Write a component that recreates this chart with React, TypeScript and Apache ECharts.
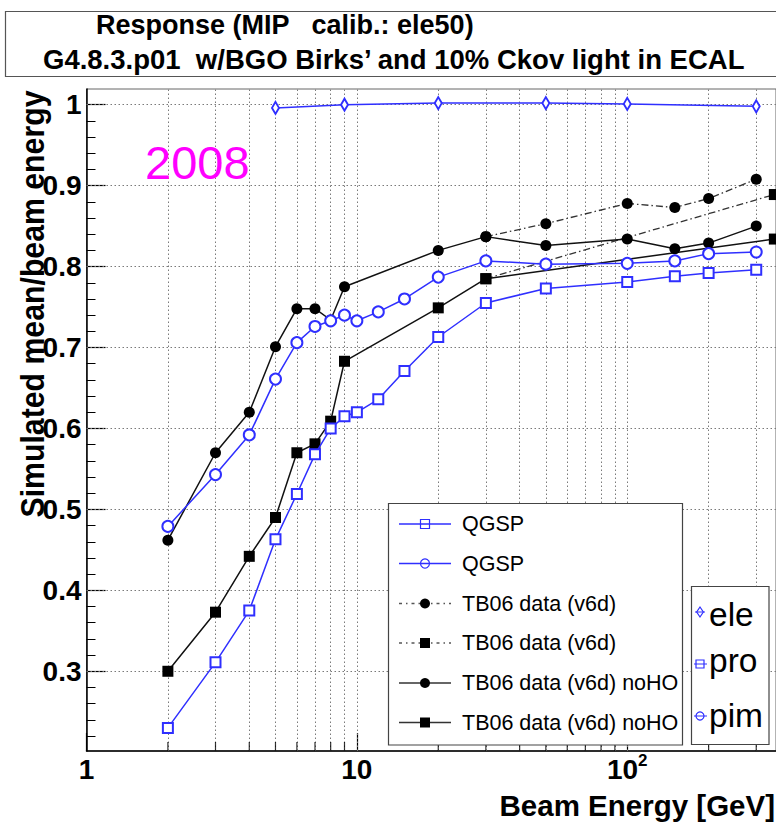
import React, { useEffect, useRef } from 'react';
import * as echarts from 'echarts';

const FONT = '"Liberation Sans", Arial, Helvetica, sans-serif';
const BLUE = '#2f2fff';
const BLACK = '#111';

// ---- axis ranges ----
const X_MIN = 1;
const X_MAX = 355;
const Y_MIN = 0.2015;
const Y_MAX = 1.0194;

// ---- electrons (sim) ----
const eleE = [5, 9, 20, 50, 100, 300];
const eleV = [0.996, 1.0, 1.002, 1.002, 1.001, 0.998];

// ---- QGSP simulation (protons: squares, pions: circles) ----
const simE = [2, 3, 4, 5, 6, 7, 8, 9, 10, 12, 15, 20, 30, 50, 100, 150, 200, 300];
const qgspProV = [0.23, 0.311, 0.375, 0.463, 0.519, 0.568, 0.6, 0.615, 0.62, 0.636, 0.671, 0.713, 0.755, 0.773, 0.781, 0.788, 0.792, 0.796];
const qgspPimV = [0.479, 0.543, 0.592, 0.661, 0.706, 0.726, 0.733, 0.74, 0.733, 0.744, 0.76, 0.787, 0.807, 0.803, 0.804, 0.807, 0.816, 0.818];

// ---- TB06 data, circles ----
const tbPimE = [30, 50, 100, 150, 200, 300];
const tbPimV = [0.837, 0.853, 0.878, 0.873, 0.884, 0.908];
const tbPimNoHOE = [2, 3, 4, 5, 6, 7, 8, 9, 20, 30, 50, 100, 150, 200, 300];
const tbPimNoHOV = [0.462, 0.57, 0.62, 0.701, 0.748, 0.748, 0.734, 0.775, 0.82, 0.837, 0.826, 0.834, 0.822, 0.829, 0.85];

// ---- TB06 data, squares ----
const tbProE = [30, 350];
const tbProV = [0.785, 0.889];
const tbProNoHOE = [2, 3, 4, 5, 6, 7, 8, 9, 20, 30, 350];
const tbProNoHOV = [0.3, 0.373, 0.442, 0.49, 0.57, 0.581, 0.609, 0.683, 0.749, 0.785, 0.834];

// ---- ticks and grid ----
const xGridValues = [2, 3, 4, 5, 6, 7, 8, 9, 10, 20, 30, 40, 50, 60, 70, 80, 90, 100, 200, 300];
const xMinorTicks = [2, 3, 4, 5, 6, 7, 8, 9, 20, 30, 40, 50, 60, 70, 80, 90, 200, 300];
const yLabelValues = [0.3, 0.4, 0.5, 0.6, 0.7, 0.8, 0.9, 1.0];
const yMinorTicks = [0.22, 0.24, 0.26, 0.28, 0.32, 0.34, 0.36, 0.38, 0.42, 0.44, 0.46, 0.48, 0.52, 0.54, 0.56, 0.58, 0.62, 0.64, 0.66, 0.68, 0.72, 0.74, 0.76, 0.78, 0.82, 0.84, 0.86, 0.88, 0.92, 0.94, 0.96, 0.98];

const titleLines = ['Response (MIP   calib.: ele50)', "G4.8.3.p01  w/BGO Birks\u2019 and 10% Ckov light in ECAL"];
const xTitle = 'Beam Energy [GeV]';
const yTitle = 'Simulated mean/beam energy';
const yearLabel = '2008';

const legend1 = [
  { label: 'QGSP', color: BLUE, dash: null as any, marker: 'openSquare' },
  { label: 'QGSP', color: BLUE, dash: null as any, marker: 'openCircle' },
  { label: 'TB06 data (v6d)', color: '#555', dash: [3, 4, 1.5, 4], marker: 'circle' },
  { label: 'TB06 data (v6d)', color: '#555', dash: [3, 4, 1.5, 4], marker: 'square' },
  { label: 'TB06 data (v6d) noHO', color: '#333', dash: null as any, marker: 'circle' },
  { label: 'TB06 data (v6d) noHO', color: '#333', dash: null as any, marker: 'square' },
];
const legend1Y = [524, 563.5, 603.5, 643, 683, 722.5];
const legend2 = [
  { label: 'ele', marker: 'diamond' },
  { label: 'pro', marker: 'openSquare' },
  { label: 'pim', marker: 'openCircle' },
];
const legend2MarkerY = [612, 664, 716];
const legend2TextY = [614, 660, 715];

const DASHDOT = [7, 3, 1.5, 3];

function pairs(xs: number[], ys: number[]) {
  return xs.map((x, i) => [x, ys[i]]);
}

function markerEls(kind: string, cx: number, cy: number, color: string, s: number) {
  const els: any[] = [];
  if (kind === 'openSquare') {
    els.push({ type: 'rect', shape: { x: cx - s / 2, y: cy - s / 2, width: s, height: s }, style: { fill: 'rgba(255,255,255,0)', stroke: color, lineWidth: 1.2 } });
  } else if (kind === 'openCircle') {
    els.push({ type: 'circle', shape: { cx, cy, r: s / 2 }, style: { fill: 'rgba(255,255,255,0)', stroke: color, lineWidth: 1.2 } });
  } else if (kind === 'circle') {
    els.push({ type: 'circle', shape: { cx, cy, r: s / 2 }, style: { fill: '#000' } });
  } else if (kind === 'square') {
    els.push({ type: 'rect', shape: { x: cx - s / 2, y: cy - s / 2, width: s, height: s }, style: { fill: '#000' } });
  } else if (kind === 'diamond') {
    els.push({ type: 'polygon', shape: { points: [[cx, cy - s / 2], [cx + s / 3, cy], [cx, cy + s / 2], [cx - s / 3, cy]] }, style: { fill: 'rgba(255,255,255,0)', stroke: color, lineWidth: 1.2 } });
    els.push({ type: 'line', shape: { x1: cx - s / 2, y1: cy, x2: cx + s / 2, y2: cy }, style: { stroke: color, lineWidth: 1 } });
  }
  return els;
}

function buildGraphic() {
  const g: any[] = [];
  // title box
  g.push({ type: 'rect', shape: { x: 5.5, y: 11.5, width: 800, height: 65 }, style: { fill: '#fff', stroke: '#555', lineWidth: 1.2 }, z: 10 });
  g.push({ type: 'text', x: 96, y: 25, style: { text: titleLines[0], fill: '#000', fontFamily: FONT, fontWeight: 'bold', fontSize: 27, align: 'left', verticalAlign: 'middle' }, z: 11 });
  g.push({ type: 'text', x: 43, y: 59, style: { text: titleLines[1], fill: '#000', fontFamily: FONT, fontWeight: 'bold', fontSize: 27.5, align: 'left', verticalAlign: 'middle' }, z: 11 });
  // year
  g.push({ type: 'text', x: 145, y: 162, style: { text: yearLabel, fill: '#ff00ff', fontFamily: FONT, fontSize: 47, align: 'left', verticalAlign: 'middle' }, z: 11 });
  // axis titles
  g.push({ type: 'text', x: 775, y: 805, style: { text: xTitle, fill: '#000', fontFamily: FONT, fontWeight: 'bold', fontSize: 29.5, lineHeight: 20, align: 'right', verticalAlign: 'middle' }, z: 11 });
  g.push({ type: 'text', x: 32, y: 304, rotation: Math.PI / 2, scaleX: 0.89, style: { text: yTitle, fill: '#000', fontFamily: FONT, fontWeight: 'bold', fontSize: 34, align: 'center', verticalAlign: 'middle' }, z: 11 });
  // legend 1
  g.push({ type: 'rect', shape: { x: 388.5, y: 503.5, width: 294, height: 241.5 }, style: { fill: '#fff', stroke: '#444', lineWidth: 1.2 }, z: 10 });
  legend1.forEach((e, i) => {
    const y = legend1Y[i];
    g.push({ type: 'line', shape: { x1: 399, y1: y, x2: 451, y2: y }, style: { stroke: e.color, lineWidth: 1.3, lineDash: e.dash || undefined }, z: 11 });
    const size = e.marker === 'circle' || e.marker === 'square' ? 10 : 9;
    markerEls(e.marker, 425, y, e.color === BLUE ? BLUE : '#000', size).forEach((m) => g.push({ ...m, z: 12 }));
    g.push({ type: 'text', x: 462, y, style: { text: e.label, fill: '#000', fontFamily: FONT, fontSize: 21.5, align: 'left', verticalAlign: 'middle' }, z: 12 });
  });
  // legend 2
  g.push({ type: 'rect', shape: { x: 691.5, y: 586.5, width: 77.5, height: 158 }, style: { fill: '#fff', stroke: '#444', lineWidth: 1.2 }, z: 10 });
  legend2.forEach((e, i) => {
    const my = legend2MarkerY[i];
    if (e.marker !== 'diamond') {
      g.push({ type: 'line', shape: { x1: 694, y1: my, x2: 707, y2: my }, style: { stroke: BLUE, lineWidth: 1 }, z: 11 });
    }
    markerEls(e.marker, 700, my, BLUE, e.marker === 'diamond' ? 10 : 8).forEach((m) => g.push({ ...m, z: 12 }));
    g.push({ type: 'text', x: 709, y: legend2TextY[i], style: { text: e.label, fill: '#000', fontFamily: FONT, fontSize: 33.5, align: 'left', verticalAlign: 'middle' }, z: 12 });
  });
  return g;
}

function buildOption() {
  const gridMarkData: any[] = [
    ...xGridValues.map((v) => ({ xAxis: v })),
    ...yLabelValues.map((v) => ({ yAxis: v })),
  ];
  return {
    animation: false,
    backgroundColor: '#fff',
    textStyle: { fontFamily: FONT },
    grid: { left: 86.5, top: 89, width: 690, height: 662, show: true, borderColor: '#666', borderWidth: 1, backgroundColor: 'rgba(0,0,0,0)' },
    xAxis: [
      {
        type: 'log',
        logBase: 10,
        min: X_MIN,
        max: X_MAX,
        position: 'bottom',
        axisLine: { show: true, lineStyle: { color: '#000', width: 1.5 } },
        axisTick: { show: true, inside: true, length: 18, lineStyle: { color: '#000', width: 1.2 } },
        minorTick: { show: false },
        splitLine: { show: false },
        axisLabel: {
          showMaxLabel: false,
          showMinLabel: true,
          margin: 12,
          color: '#000',
          fontFamily: FONT,
          fontWeight: 'bold',
          fontSize: 28,
          formatter: (v: number) => {
            const l = Math.log10(v);
            const r = Math.round(l);
            if (Math.abs(l - r) > 1e-6) return '';
            if (r === 0) return '{b|1}';
            if (r === 1) return '{b|10}';
            return '{b|10}{s|' + r + '}';
          },
          rich: {
            b: { fontFamily: FONT, fontWeight: 'bold', fontSize: 28, lineHeight: 20, padding: [12, 0, 0, 0], verticalAlign: 'bottom', color: '#000' },
            s: { fontFamily: FONT, fontWeight: 'bold', fontSize: 17, lineHeight: 17, padding: [0, 0, 14, 0], verticalAlign: 'bottom', color: '#000' },
          },
        },
      },
    ],
    yAxis: [
      {
        type: 'value',
        min: Y_MIN,
        max: Y_MAX,
        position: 'left',
        axisLine: { show: true, lineStyle: { color: '#000', width: 1.5 } },
        axisTick: { show: true, inside: true, length: 19, customValues: yLabelValues, lineStyle: { color: '#000', width: 1.2 } },
        splitLine: { show: false },
        axisLabel: {
          customValues: yLabelValues,
          margin: 5,
          color: '#000',
          fontFamily: FONT,
          fontWeight: 'bold',
          fontSize: 28,
          padding: [6, 0, 0, 0],
          formatter: (v: number) => (Math.abs(v - 1) < 1e-9 ? '1' : v.toFixed(1)),
        },
      },
      {
        type: 'value',
        min: Y_MIN,
        max: Y_MAX,
        position: 'left',
        offset: 0,
        axisLine: { show: false },
        axisTick: { show: true, inside: true, length: 9, customValues: yMinorTicks, lineStyle: { color: '#000', width: 1 } },
        splitLine: { show: false },
        axisLabel: { show: false },
      },
    ],
    series: [
      {
        type: 'line',
        name: 'ele',
        z: 4,
        data: pairs(eleE, eleV),
        symbol: 'emptyDiamond',
        symbolSize: [7, 12],
        showAllSymbol: true,
        lineStyle: { color: BLUE, width: 1.5 },
        itemStyle: { color: BLUE, borderWidth: 1.3 },
        silent: true,
        markLine: {
          z: 1,
          silent: true,
          symbol: ['none', 'none'],
          label: { show: false },
          lineStyle: { type: [1.5, 2.5], color: '#7a7a7a', width: 1 },
          emphasis: { disabled: true },
          data: gridMarkData,
        },
      },
      {
        type: 'line',
        name: 'TB06 data (v6d)',
        z: 3,
        data: pairs(tbPimE, tbPimV),
        symbol: 'circle',
        symbolSize: 11,
        showAllSymbol: true,
        lineStyle: { color: '#333', width: 1.3, type: DASHDOT },
        itemStyle: { color: '#000' },
        silent: true,
      },
      {
        type: 'line',
        name: 'TB06 data (v6d) sq',
        z: 3,
        data: pairs(tbProE, tbProV),
        symbol: 'rect',
        symbolSize: 11,
        showAllSymbol: true,
        lineStyle: { color: '#333', width: 1.3, type: DASHDOT },
        itemStyle: { color: '#000' },
        silent: true,
      },
      {
        type: 'line',
        name: 'TB06 data (v6d) noHO',
        z: 3,
        data: pairs(tbPimNoHOE, tbPimNoHOV),
        symbol: 'circle',
        symbolSize: 11,
        showAllSymbol: true,
        lineStyle: { color: BLACK, width: 1.5 },
        itemStyle: { color: '#000' },
        silent: true,
      },
      {
        type: 'line',
        name: 'TB06 data (v6d) noHO sq',
        z: 3,
        data: pairs(tbProNoHOE, tbProNoHOV),
        symbol: 'rect',
        symbolSize: 11,
        showAllSymbol: true,
        lineStyle: { color: BLACK, width: 1.5 },
        itemStyle: { color: '#000' },
        silent: true,
      },
      {
        type: 'line',
        name: 'QGSP pro',
        z: 4,
        data: pairs(simE, qgspProV),
        symbol: 'emptyRect',
        symbolSize: 10,
        showAllSymbol: true,
        lineStyle: { color: BLUE, width: 1.5 },
        itemStyle: { color: BLUE, borderWidth: 1.3 },
        silent: true,
      },
      {
        type: 'line',
        name: 'QGSP pim',
        z: 4,
        data: pairs(simE, qgspPimV),
        symbol: 'emptyCircle',
        symbolSize: 11,
        showAllSymbol: true,
        lineStyle: { color: BLUE, width: 1.5 },
        itemStyle: { color: BLUE, borderWidth: 1.3 },
        silent: true,
      },
      {
        type: 'scatter',
        name: 'xminor',
        z: 5,
        silent: true,
        clip: false,
        data: xMinorTicks.map((v) => [v, Y_MIN]),
        symbol: 'rect',
        symbolSize: [1.2, 9],
        symbolOffset: [0, -4.5],
        itemStyle: { color: '#000' },
      },
    ],
    graphic: buildGraphic(),
  };
}

export default function App() {
  const ref = useRef<HTMLDivElement>(null);
  useEffect(() => {
    if (!ref.current) return;
    const chart = echarts.init(ref.current, undefined, { renderer: 'svg' });
    chart.setOption(buildOption() as any);
    return () => {
      chart.dispose();
    };
  }, []);
  return (
    <div
      ref={ref}
      style={{ position: 'absolute', left: 0, top: 0, width: 776, height: 823, background: '#fff', overflow: 'hidden' }}
    />
  );
}
